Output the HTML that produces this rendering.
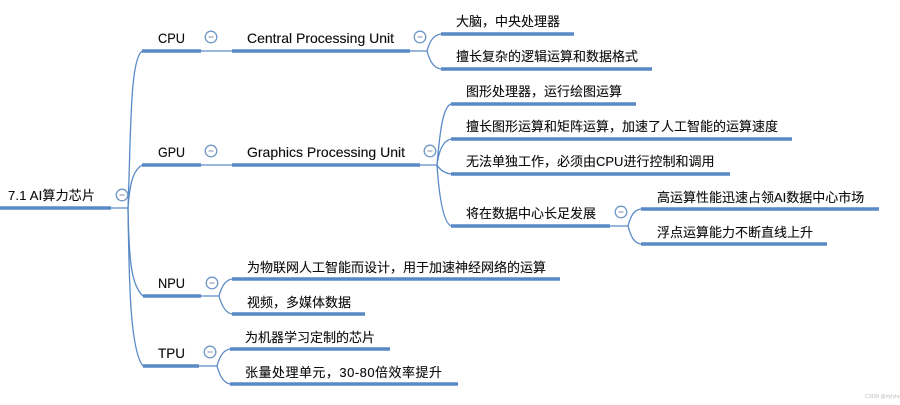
<!DOCTYPE html>
<html><head><meta charset="utf-8">
<style>
html,body{margin:0;padding:0;background:#fff;width:900px;height:405px;overflow:hidden}
svg{display:block;filter:blur(.35px)}
text{font-family:"Liberation Sans","Noto Sans CJK SC",sans-serif;font-size:13px;fill:#0c0c0c;stroke:#0c0c0c;stroke-width:.12px}
.l{font-size:14px}
.b{stroke:#5a8ac6;stroke-width:3.6;fill:none}
.t{stroke:#5a8ac6;stroke-width:1.3;fill:none}
.c circle{fill:#fff;stroke:#6f97c4;stroke-width:1.3}
.c line{stroke:#8a9aac;stroke-width:1.1}
</style></head><body>
<svg width="900" height="405" viewBox="0 0 900 405" xmlns="http://www.w3.org/2000/svg">
<!-- thin connectors -->
<path class="t" d="M111 208H128"/>
<path class="t" d="M128 208C131 130 130 60 142 51"/>
<path class="t" d="M128 208C130 180 134 170 142 165"/>
<path class="t" d="M128 208C129 260 131 285 143 296"/>
<path class="t" d="M128 208C129 280 130 350 143 366"/>
<path class="t" d="M201 51H232M201 165H232"/>
<path class="t" d="M410 51H427M427 51C430 40 434 35 441 34M427 51C430 62 434 68 441 69"/>
<path class="t" d="M420 165H437M437 165C440 130 443 107 451 104M437 165C439 150 443 141 451 139M437 165C440 170 444 173 451 174M437 165C439 195 443 222 451 226"/>
<path class="t" d="M610 226H628M628 226C631 215 634 210 641 209M628 226C631 237 634 243 641 244"/>
<path class="t" d="M201 296H219M219 296C222 285 226 280 232 279M219 296C222 307 226 313 232 314"/>
<path class="t" d="M199 366H217M217 366C220 355 224 350 230 349M217 366C220 377 224 383 230 384"/>
<!-- thick bars -->
<path class="b" d="M0 208H111M142 51H201M232 51H410M441 34H574M441 69H652M142 165H201M232 165H420M451 104H636M451 139H792M451 174H730M451 226H610M641 209H879M641 244H827M143 296H201M232 279H560M232 314H365M143 366H199M230 349H390M230 384H458"/>
<!-- collapse buttons -->
<g class="c">
<g><circle cx="122" cy="195" r="5.8"/><line x1="119.5" y1="195" x2="124.5" y2="195"/></g>
<g><circle cx="211" cy="37" r="5.8"/><line x1="208.5" y1="37" x2="213.5" y2="37"/></g>
<g><circle cx="420" cy="37" r="5.8"/><line x1="417.5" y1="37" x2="422.5" y2="37"/></g>
<g><circle cx="211" cy="151" r="5.8"/><line x1="208.5" y1="151" x2="213.5" y2="151"/></g>
<g><circle cx="430" cy="151" r="5.8"/><line x1="427.5" y1="151" x2="432.5" y2="151"/></g>
<g><circle cx="621" cy="212" r="5.8"/><line x1="618.5" y1="212" x2="623.5" y2="212"/></g>
<g><circle cx="212" cy="283" r="5.8"/><line x1="209.5" y1="283" x2="214.5" y2="283"/></g>
<g><circle cx="210" cy="352" r="5.8"/><line x1="207.5" y1="352" x2="212.5" y2="352"/></g>
</g>
<!-- labels -->
<text x="8" y="200" textLength="87" lengthAdjust="spacing">7.1 AI算力芯片</text>
<text class="l" x="158" y="43" textLength="27" lengthAdjust="spacingAndGlyphs">CPU</text>
<text class="l" x="247" y="43" textLength="147" lengthAdjust="spacingAndGlyphs">Central Processing Unit</text>
<text x="456" y="26">大脑，中央处理器</text>
<text x="456" y="61">擅长复杂的逻辑运算和数据格式</text>
<text class="l" x="158" y="157" textLength="27" lengthAdjust="spacingAndGlyphs">GPU</text>
<text class="l" x="247" y="157" textLength="158" lengthAdjust="spacingAndGlyphs">Graphics Processing Unit</text>
<text x="466" y="96">图形处理器，运行绘图运算</text>
<text x="466" y="131">擅长图形运算和矩阵运算，加速了人工智能的运算速度</text>
<text x="466" y="166">无法单独工作，必须由CPU进行控制和调用</text>
<text x="466" y="218">将在数据中心长足发展</text>
<text x="657" y="202">高运算性能迅速占领AI数据中心市场</text>
<text x="657" y="237">浮点运算能力不断直线上升</text>
<text class="l" x="158" y="288" textLength="27" lengthAdjust="spacingAndGlyphs">NPU</text>
<text x="247" y="272">为物联网人工智能而设计，用于加速神经网络的运算</text>
<text x="247" y="307">视频，多媒体数据</text>
<text class="l" x="158" y="358" textLength="27" lengthAdjust="spacingAndGlyphs">TPU</text>
<text x="245" y="342">为机器学习定制的芯片</text>
<text x="245" y="377" textLength="197" lengthAdjust="spacing">张量处理单元，30-80倍效率提升</text>
<text x="865" y="398" style="font-size:5px;fill:#bbb;stroke:none">CSDN @rfytyhon</text>
</svg>
</body></html>
